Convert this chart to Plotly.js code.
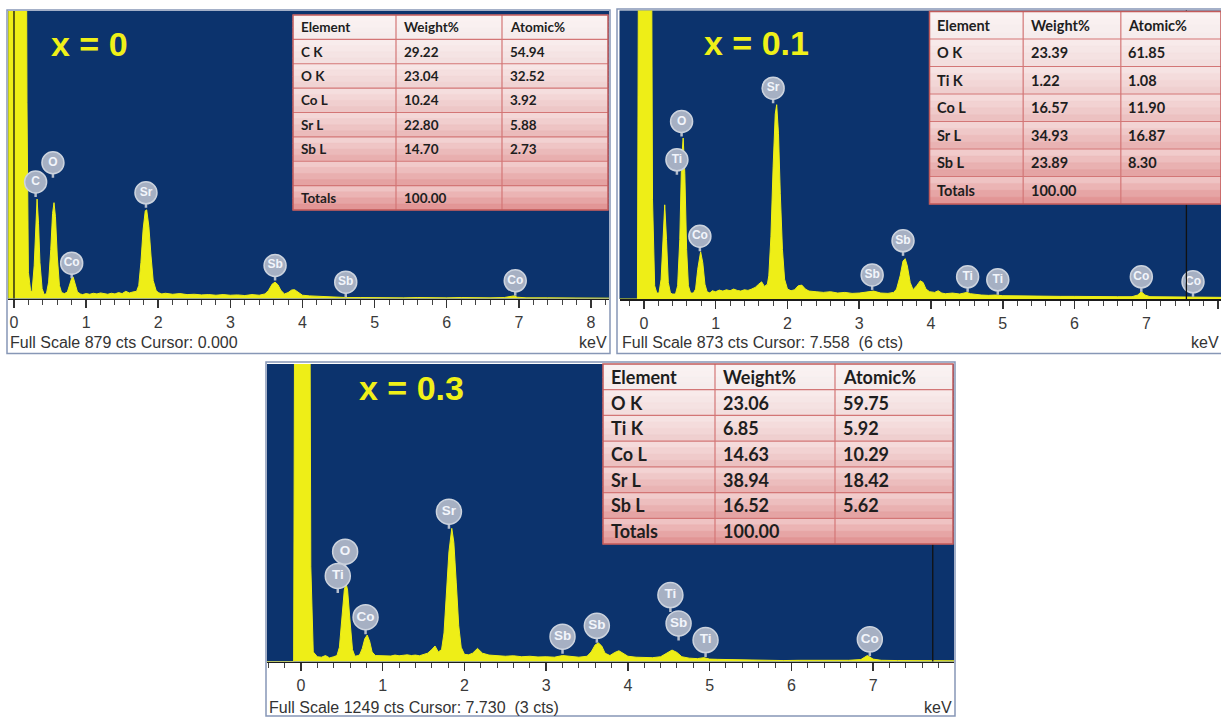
<!DOCTYPE html>
<html><head><meta charset="utf-8">
<script src="https://cdn.plot.ly/plotly-3.0.1.min.js"></script>
<style>html,body{margin:0;padding:0;background:#fff;}#chart{width:1221px;height:717px;}</style>
</head><body><div id="chart"></div>
<script>
// ---------- DATA ----------
const sampleX = ['0', '0.1', '0.3'];
const fullScale = [879, 873, 1249];
const cursorKeV = [0.000, 7.558, 7.730];
const cursorNote = ['', '  (6 cts)', '  (3 cts)'];
const tickVals = [0, 1, 2, 3, 4, 5, 6, 7, 8];

// Spectrum x = 0
const keV1 = [-0.08, 0.00, 0.10, 0.16, 0.18, 0.20, 0.23,
  0.25, 0.28, 0.30, 0.32, 0.34, 0.36, 0.39, 0.42,
  0.45, 0.48, 0.51, 0.535, 0.555, 0.575, 0.60, 0.63, 0.66,
  0.70, 0.74, 0.77, 0.80, 0.82, 0.85, 0.88, 0.92,
  0.95, 1.00, 1.05, 1.10, 1.15, 1.20, 1.25, 1.30, 1.35, 1.40, 1.45, 1.50, 1.55, 1.60, 1.65,
  1.70, 1.73, 1.76, 1.79, 1.82, 1.84, 1.87, 1.90, 1.93, 1.97, 2.00,
  2.05, 2.10, 2.20, 2.30, 2.40, 2.50, 2.60, 2.70, 2.80, 2.90, 3.00, 3.10, 3.20, 3.30, 3.40, 3.48,
  3.53, 3.58, 3.62, 3.66, 3.70, 3.75, 3.80, 3.85, 3.89, 3.94, 4.00, 4.10, 4.20, 4.30, 4.40, 4.50,
  4.60, 4.80, 5.00, 5.20, 5.40, 5.60, 5.80, 6.00, 6.20, 6.40, 6.60, 6.80, 6.88, 6.93, 6.98, 7.10, 7.40, 7.70, 8.00, 8.25];
const cts1 = [2000, 2000, 2000, 2000, 600, 80, 25,
  20, 100, 220, 304, 230, 110, 30, 12,
  15, 50, 150, 260, 293, 250, 130, 40, 18,
  15, 20, 40, 62, 66, 40, 20, 14,
  12, 15, 13, 16, 14, 17, 15, 13, 16, 14, 18, 15, 22, 17, 20,
  22, 40, 110, 210, 268, 271, 220, 130, 55, 25, 18,
  14, 16, 13, 15, 12, 13, 11, 12, 10, 12, 10, 11, 9, 12, 10, 14,
  25, 44, 50, 42, 25, 14, 18, 26, 27, 18, 10, 8, 7, 5, 5, 4,
  3, 3, 2, 3, 2, 3, 2, 2, 3, 2, 2, 3, 5, 8, 4, 2, 2, 2, 1, 1];

// Spectrum x = 0.1
const keV2 = [-0.34, -0.09, -0.07, 0.10, 0.12, 0.15, 0.18,
  0.21, 0.24, 0.265, 0.29, 0.315, 0.34, 0.37, 0.40,
  0.44, 0.47, 0.50, 0.525, 0.547, 0.57, 0.595, 0.62, 0.65,
  0.69, 0.72, 0.75, 0.79, 0.82, 0.85, 0.88, 0.92,
  0.95, 1.00, 1.05, 1.10, 1.15, 1.20, 1.25, 1.30, 1.35, 1.40, 1.45, 1.50, 1.55, 1.60, 1.64, 1.68, 1.72,
  1.74, 1.77, 1.80, 1.83, 1.85, 1.875, 1.90, 1.93, 1.96, 2.00, 2.05,
  2.10, 2.15, 2.20, 2.25, 2.30, 2.40, 2.50, 2.60, 2.70, 2.80, 2.90, 3.00, 3.10, 3.20, 3.30, 3.40, 3.48,
  3.52, 3.57, 3.61, 3.64, 3.67, 3.71, 3.75, 3.80, 3.85, 3.89, 3.93, 3.98, 4.05, 4.10, 4.15, 4.20, 4.30, 4.40, 4.50, 4.55, 4.60, 4.70, 4.80, 4.90, 5.00,
  5.20, 5.40, 5.60, 5.80, 6.00, 6.20, 6.40, 6.60, 6.80, 6.88, 6.93, 6.98, 7.05, 7.30, 7.60, 7.65, 7.80, 8.04];
const cts2 = [0, 0, 1500, 1500, 300, 40, 18,
  18, 60, 170, 285, 180, 50, 18, 15,
  15, 40, 180, 420, 487, 380, 150, 40, 18,
  18, 30, 90, 143, 110, 45, 22, 18,
  25, 22, 27, 24, 28, 25, 30, 26, 24, 28, 26, 30, 35, 45, 52, 38, 45,
  70, 190, 400, 560, 588, 500, 320, 150, 60, 30, 25,
  28, 40, 42, 30, 24, 22, 20, 22, 18, 20, 17, 18, 20, 24, 18, 17, 20,
  30, 70, 115, 122, 100, 50, 28, 40, 55, 50, 30, 22, 20, 25, 18, 16, 18, 15, 20, 16, 14, 12, 11, 12, 10,
  9, 8, 9, 8, 8, 7, 8, 7, 7, 12, 22, 12, 7, 6, 5, 6, 5, 5];

// Spectrum x = 0.3
const keV3 = [-0.42, -0.09, -0.07, 0.10, 0.12, 0.15, 0.20, 0.25, 0.30, 0.35, 0.40, 0.44,
  0.47, 0.50, 0.53, 0.55, 0.57, 0.60, 0.63, 0.66, 0.70,
  0.72, 0.75, 0.78, 0.81, 0.84, 0.87, 0.91,
  0.95, 1.00, 1.05, 1.10, 1.15, 1.20, 1.25, 1.30, 1.35, 1.40, 1.45, 1.50, 1.55, 1.60, 1.64, 1.68, 1.72,
  1.75, 1.78, 1.81, 1.845, 1.87, 1.90, 1.93, 1.96, 2.00,
  2.05, 2.10, 2.16, 2.22, 2.30, 2.40, 2.50, 2.60, 2.70, 2.80, 2.90, 3.00, 3.10, 3.20, 3.30, 3.40, 3.50,
  3.55, 3.60, 3.64, 3.68, 3.72, 3.78, 3.84, 3.89, 3.94, 4.00, 4.10, 4.20, 4.30, 4.40, 4.48, 4.54, 4.60, 4.66, 4.75, 4.85, 4.93, 5.00,
  5.10, 5.20, 5.30, 5.50, 5.70, 5.90, 6.10, 6.30, 6.50, 6.70, 6.85, 6.93, 7.00, 7.10, 7.30, 7.50, 7.70, 7.99];
const cts3 = [0, 0, 2500, 2500, 400, 40, 20, 18, 25, 15, 20, 25,
  60, 180, 300, 330, 300, 170, 50, 22, 25,
  30, 55, 95, 111, 85, 40, 25,
  25, 22, 25, 23, 27, 24, 26, 28, 25, 27, 24, 30, 35, 50, 65, 40, 50,
  120, 280, 460, 559, 500, 330, 150, 60, 30,
  28, 35, 55, 35, 27, 25, 22, 24, 20, 22, 19, 20, 18, 25, 20, 18, 22,
  40, 70, 78, 65, 35, 25, 38, 45, 35, 22, 18, 17, 16, 20, 35, 48, 38, 20, 14, 12, 16, 10,
  9, 8, 7, 5, 5, 4, 5, 4, 4, 5, 8, 25, 10, 5, 4, 4, 3, 3];

// Peak labels (element, energy keV, label height in cts)
const lblName1 = ['C', 'O', 'Co', 'Sr', 'Sb', 'Sb', 'Co'];
const lblKeV1  = [0.30, 0.54, 0.80, 1.83, 3.62, 4.60, 6.95];
const lblCts1  = [356, 415, 108, 323, 101, 50, 54];
const lblName2 = ['Sr', 'O', 'Ti', 'Co', 'Sb', 'Sb', 'Ti', 'Ti', 'Co', 'Co'];
const lblKeV2  = [1.80, 0.525, 0.46, 0.78, 3.18, 3.61, 4.51, 4.93, 6.93, 7.65];
const lblCts2  = [638, 537, 421, 190, 73, 176, 67, 58, 67, 52];
const lblName3 = ['Sr', 'O', 'Ti', 'Co', 'Sb', 'Sb', 'Ti', 'Sb', 'Ti', 'Co'];
const lblKeV3  = [1.81, 0.54, 0.45, 0.79, 3.20, 3.62, 4.52, 4.62, 4.95, 6.96];
const lblCts3  = [629, 461, 359, 186, 104, 150, 279, 160, 90, 93];

// Composition tables
const tableHead = ['Element', 'Weight%', 'Atomic%'];
const elem1 = ['C K', 'O K', 'Co L', 'Sr L', 'Sb L', '', 'Totals'];
const wt1   = ['29.22', '23.04', '10.24', '22.80', '14.70', '', '100.00'];
const at1   = ['54.94', '32.52', '3.92', '5.88', '2.73', '', ''];
const elem2 = ['O K', 'Ti K', 'Co L', 'Sr L', 'Sb L', 'Totals'];
const wt2   = ['23.39', '1.22', '16.57', '34.93', '23.89', '100.00'];
const at2   = ['61.85', '1.08', '11.90', '16.87', '8.30', ''];
const elem3 = ['O K', 'Ti K', 'Co L', 'Sr L', 'Sb L', 'Totals'];
const wt3   = ['23.06', '6.85', '14.63', '38.94', '16.52', '100.00'];
const at3   = ['59.75', '5.92', '10.29', '18.42', '5.62', ''];

// ---------- LAYOUT GEOMETRY (pixels) ----------
const W = 1221, H = 717;
const YEL = '#eeee17', NAVY = '#0c336d';
const geom = [
  {plot: [8, 609, 11, 298.5], xr: [-0.083, 8.25], frame: [7, 610, 10, 353.5], table: [293, 608, 15, 210], cols: [103, 106, 106], tfont: 13.5, title: [89, 44], foot: 342, msize: 22, lfont: 12, stem: 15},
  {plot: [619.5, 1221, 10.5, 299], xr: [-0.34, 8.04], frame: [617, 1222, 9, 353.5], table: [929.5, 1221, 11.5, 204], cols: [93.5, 97.5, 100], tfont: 14.5, title: [756, 43], foot: 342, msize: 22, lfont: 12, stem: 15},
  {plot: [267, 954, 364, 661.5], xr: [-0.416, 7.99], frame: [266, 955, 362, 716], table: [603, 953, 364, 544], cols: [112, 120, 118], tfont: 18, title: [411, 388], foot: 707, msize: 25, lfont: 13.5, stem: 17}
];
const spectra = [[keV1, cts1], [keV2, cts2], [keV3, cts3]];
const labels = [[lblName1, lblKeV1, lblCts1], [lblName2, lblKeV2, lblCts2], [lblName3, lblKeV3, lblCts3]];
const tables = [[elem1, wt1, at1], [elem2, wt2, at2], [elem3, wt3, at3]];

const px = p => p / W, py = p => 1 - p / H;
function lerp(a, b, t) { return a.map((v, k) => v + (b[k] - v) * t); }
function rgb(c) { return 'rgb(' + c.map(v => Math.round(v)).join(',') + ')'; }
const TOP_C = [246, 236, 236], BOT_C = [226, 150, 150], WHITE = [255, 250, 250];

const data = [], annotations = [], shapes = [];
const layout = {
  width: W, height: H, margin: {l: 0, r: 0, t: 0, b: 0},
  paper_bgcolor: '#ffffff', plot_bgcolor: NAVY, showlegend: false,
  font: {family: 'Liberation Sans, Arial, sans-serif', color: '#333'}
};
const FONT = 'Liberation Sans, Arial, sans-serif';

// cursor lines first (tables are drawn over them)
geom.forEach((g, i) => {
  const s = i === 0 ? '' : String(i + 1);
  shapes.push({type: 'line', xref: 'x' + s, yref: 'y' + s + ' domain', x0: cursorKeV[i], x1: cursorKeV[i], y0: 0, y1: 1,
    line: {color: '#111', width: 1.3}, layer: 'above'});
});

geom.forEach((g, i) => {
  const s = i === 0 ? '' : String(i + 1);
  const xa = 'x' + s, ya = 'y' + s;
  const plotH = g.plot[3] - g.plot[2];
  layout['xaxis' + s] = {
    domain: [px(g.plot[0]), px(g.plot[1])], range: g.xr, anchor: ya,
    showgrid: false, zeroline: false, showline: true, linecolor: '#1b1b1b', linewidth: 1.5,
    ticks: 'outside', ticklen: 8, tickwidth: 1.5, tickcolor: '#333',
    tickmode: 'array', tickvals: tickVals, ticktext: tickVals.map(String),
    minor: {dtick: 0.2, tick0: 0, ticks: 'outside', ticklen: 5, tickwidth: 1, tickcolor: '#444', showgrid: false},
    tickfont: {family: FONT, size: 16, color: '#3a3a3a'},
    ticklabelstandoff: 1, fixedrange: true
  };
  layout['yaxis' + s] = {
    domain: [py(g.plot[3]), py(g.plot[2])], range: [0, fullScale[i]], anchor: xa,
    visible: false, showgrid: false, zeroline: false, fixedrange: true
  };

  const [kx, ky] = spectra[i];
  data.push({type: 'scatter', mode: 'lines', x: kx, y: ky, xaxis: xa, yaxis: ya,
    fill: 'tozeroy', fillcolor: YEL, line: {color: YEL, width: 1}, hoverinfo: 'skip'});

  const [ln, lk, lc] = labels[i];
  const stemCts = g.stem * fullScale[i] / plotH;
  data.push({type: 'scatter', mode: 'markers', x: lk, y: lc, xaxis: xa, yaxis: ya,
    marker: {size: 2, opacity: 0}, hoverinfo: 'skip',
    error_y: {type: 'data', symmetric: false, array: lk.map(() => 0), arrayminus: lk.map(() => stemCts),
      color: '#b4bdcc', thickness: 2.5, width: 0}});
  data.push({type: 'scatter', mode: 'markers+text', x: lk, y: lc, text: ln, xaxis: xa, yaxis: ya,
    textposition: 'middle center', hoverinfo: 'skip',
    textfont: {family: FONT, size: g.lfont, color: '#f2f5fb', weight: 'bold'},
    marker: {size: g.msize, color: '#a6b0c3', line: {color: '#ccd3de', width: 1.5}}});

  // panel frame
  shapes.push({type: 'rect', xref: 'paper', yref: 'paper', x0: px(g.frame[0]), x1: px(g.frame[1]),
    y0: py(g.frame[3]), y1: py(g.frame[2]), line: {color: '#8797b6', width: 1.5}, fillcolor: 'rgba(0,0,0,0)', layer: 'above'});

  // table drawn with shapes + annotations
  const cols = tables[i];
  const rows = [tableHead].concat(cols[0].map((_, r) => cols.map(c => c[r])));
  const nRows = rows.length;
  const [tl, tr, tt, tb] = g.table;
  const rh = (tb - tt) / nRows;
  const cwSum = g.cols.reduce((a, b) => a + b, 0);
  const colX = [tl];
  g.cols.forEach(w => colX.push(colX[colX.length - 1] + w * (tr - tl) / cwSum));
  const bands = 4;
  for (let r = 0; r < nRows; r++) {
    const base = lerp(TOP_C, BOT_C, r / (nRows - 1));
    for (let b = 0; b < bands; b++) {
      const c = rgb(lerp(lerp(base, WHITE, 0.45), base, b / (bands - 1)));
      const y0 = tt + r * rh + b * rh / bands;
      const y1 = Math.min(tb, tt + r * rh + (b + 1) * rh / bands + 1);
      shapes.push({type: 'rect', xref: 'paper', yref: 'paper', x0: px(tl), x1: px(tr), y0: py(y1), y1: py(y0),
        fillcolor: c, line: {color: c, width: 0.5}, layer: 'above'});
    }
  }
  for (let r = 1; r < nRows; r++) {
    const y = tt + r * rh;
    shapes.push({type: 'line', xref: 'paper', yref: 'paper', x0: px(tl), x1: px(tr), y0: py(y), y1: py(y),
      line: {color: '#d37676', width: 1.2}, layer: 'above'});
  }
  for (let k = 1; k < colX.length - 1; k++) {
    shapes.push({type: 'line', xref: 'paper', yref: 'paper', x0: px(colX[k]), x1: px(colX[k]), y0: py(tb), y1: py(tt),
      line: {color: '#d37676', width: 1.2}, layer: 'above'});
  }
  shapes.push({type: 'rect', xref: 'paper', yref: 'paper', x0: px(tl), x1: px(tr), y0: py(tb), y1: py(tt),
    line: {color: '#c25a5a', width: 1.5}, fillcolor: 'rgba(0,0,0,0)', layer: 'above'});
  rows.forEach((row, r) => {
    row.forEach((txt, k) => {
      if (txt === '') return;
      annotations.push({xref: 'paper', yref: 'paper', x: px(colX[k] + 5.5), y: py(tt + (r + 0.5) * rh),
        text: '<b>' + txt + '</b>', showarrow: false, xanchor: 'left', yanchor: 'middle',
        font: {family: 'Lato, Carlito, sans-serif', size: g.tfont, color: '#1e1e1e'}});
    });
  });

  // sample title
  annotations.push({xref: 'paper', yref: 'paper', x: px(g.title[0]), y: py(g.title[1]),
    text: '<b>x = ' + sampleX[i] + '</b>', showarrow: false, xanchor: 'center', yanchor: 'middle',
    font: {family: FONT, size: 34, color: '#f0f018'}});
  // footer
  annotations.push({xref: 'paper', yref: 'paper', x: px(g.plot[0]), y: py(g.foot),
    text: 'Full Scale ' + fullScale[i] + ' cts Cursor: ' + cursorKeV[i].toFixed(3) + cursorNote[i].replace(/ /g, '&nbsp;'),
    showarrow: false, xanchor: 'left', yanchor: 'middle',
    font: {family: FONT, size: 16, color: '#333'}});
  annotations.push({xref: 'paper', yref: 'paper', x: px(g.plot[1]), y: py(g.foot),
    text: 'keV', showarrow: false, xanchor: 'right', yanchor: 'middle',
    font: {family: FONT, size: 16, color: '#333'}});
});

layout.annotations = annotations;
layout.shapes = shapes;
Plotly.newPlot('chart', data, layout, {staticPlot: true, displayModeBar: false});
</script></body></html>
